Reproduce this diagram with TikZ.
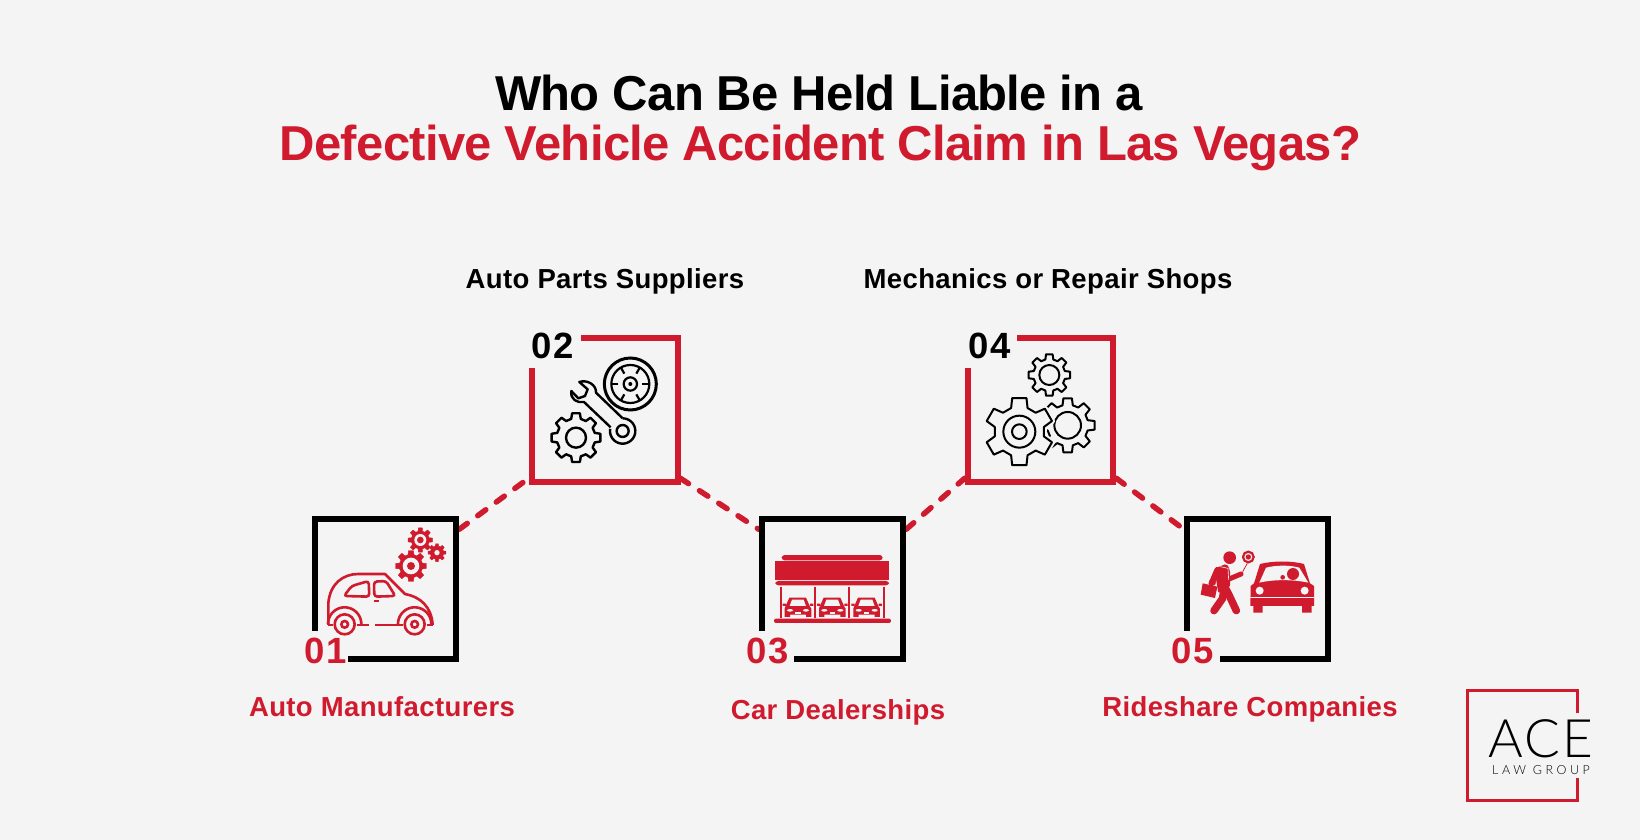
\documentclass[tikz,border=0pt]{standalone}
\usepackage{fontspec}
\setmainfont{Liberation Sans}
\newfontfamily\logofont{Lato Light}
\usetikzlibrary{positioning,calc}
\definecolor{aceRed}{RGB}{208, 26, 45}
\definecolor{paper}{RGB}{244, 244, 244}
\newcommand{\cogwheel}[6][]{
    \begin{scope}[shift={(#2,#3)}]
        \draw[line join=round,#1] ({(1-.32)*360/#6}:#5)
            \foreach \k in {1,...,#6} {
                -- ({(\k-.32)*360/#6}:#5) -- ({(\k-.2)*360/#6}:#4)
                -- ({(\k+.2)*360/#6}:#4) -- ({(\k+.32)*360/#6}:#5)
            } -- cycle;
    \end{scope}
}
\newcommand{\lotcar}[1]{
    \begin{scope}[shift={(#1,0)}]
        \fill[aceRed] (-38,320) -- (-26,293) -- (24,293) -- (36,320) -- (40,326) -- (40,351) -- (24,351) -- (24,344)
            -- (-24,344) -- (-24,351) -- (-40,351) -- (-40,326) -- cycle;
        \fill[paper] (-25,318) -- (-18,299) -- (17,299) -- (24,318) -- cycle;
        \fill[paper] (-24,331) ellipse (9 and 4) (24,331) ellipse (9 and 4);
        \fill[paper] (-8,336) rectangle (8,341);
        \fill[aceRed] (-46,311) rectangle (-36,318) (36,311) rectangle (46,318);
    \end{scope}
}
\begin{document}
\begin{tikzpicture}[
    x=1pt,y=-1pt,
    titletext/.style={font=\fontsize{49}{49}\selectfont\bfseries\addfontfeature{LetterSpace=-1.4},anchor=base},
    itemtext/.style={font=\fontsize{27.5}{28}\selectfont\bfseries\addfontfeature{LetterSpace=1.4},anchor=base},
    numtext/.style={font=\fontsize{36.5}{36.5}\selectfont\bfseries\addfontfeature{LetterSpace=5},anchor=base,inner sep=0pt},
    framebox/.style={minimum width=147pt,minimum height=146pt,inner sep=0pt},
    tallbox/.style={minimum width=151pt,minimum height=150pt,inner sep=0pt},
    frameline/.style={line width=6pt},
    link/.style={aceRed,line width=5.5pt,line cap=round,dash pattern=on 10pt off 13pt},
    icon/.style={x=.3333pt,y=-.3333pt},
    thin outline/.style={black,line width=2.4pt}
]
    \useasboundingbox (0,0) rectangle (1640,840);
    \fill[paper] (0,0) rectangle (1640,840);

    \node[titletext] (titleTop) at (819,111) {Who Can Be Held Liable in a};
    \node[titletext,text=aceRed] (titleBottom) at (820.5,160) {Defective Vehicle Accident Claim in Las Vegas?};

    \node[framebox] (makers) at (385.5,589) {};
    \node[tallbox] (suppliers) at (604.5,410) {};
    \node[framebox] (dealers) at (832.5,589) {};
    \node[tallbox] (mechanics) at (1040.5,410) {};
    \node[framebox] (rideshare) at (1257.5,589) {};

    \draw[link] (makers.39) -- (suppliers.222);
    \draw[link] (suppliers.318) -- (dealers.141);
    \draw[link] (dealers.39) -- (mechanics.222);
    \draw[link] (mechanics.318) -- (rideshare.141);

    \draw[frameline,black] (315,631) |- (456,519) |- (348,659);
    \draw[frameline,aceRed] (532,368) |- (677.5,482) |- (581,338);
    \draw[frameline,black] (762,631) |- (903,519) |- (794,659);
    \draw[frameline,aceRed] (968,368) |- (1113,482) |- (1017,338);
    \draw[frameline,black] (1187,631) |- (1328,519) |- (1220,659);

    \node[numtext,text=aceRed] (numA) at (326,663) {01};
    \node[numtext] (numB) at (553,358) {02};
    \node[numtext,text=aceRed] (numC) at (768,663) {03};
    \node[numtext] (numD) at (989.5,358) {04};
    \node[numtext,text=aceRed] (numE) at (1193,663) {05};

    \node[itemtext,text=aceRed] (textA) at (382,716.5) {Auto Manufacturers};
    \node[itemtext] (textB) at (605,288.5) {Auto Parts Suppliers};
    \node[itemtext,text=aceRed] (textC) at (838,719.5) {Car Dealerships};
    \node[itemtext] (textD) at (1048,288.5) {Mechanics or Repair Shops};
    \node[itemtext,text=aceRed] (textE) at (1250,716.5) {Rideshare Companies};

    \begin{scope}[shift={(280,500)},icon]
        \draw[aceRed,line width=2.6pt,line join=round]
            (145,375) -- (145,310) .. controls (150,250) and (190,222) .. (235,222) -- (315,222)
            -- (375,282) .. controls (420,290) and (455,320) .. (458,375);
        \draw[aceRed,line width=2.6pt,rounded corners=3pt] (192,288) -- (215,258) -- (266,243) -- (268,290) -- cycle;
        \draw[aceRed,line width=2.6pt,rounded corners=3pt] (282,245) -- (318,243) -- (346,288) -- (283,290) -- cycle;
        \draw[aceRed,line width=2.6pt] (282,303) -- (298,303);
        \draw[aceRed,line width=2.6pt] (143,375) -- (160,375) (230,375) -- (268,375) (285,375) -- (370,375) (440,375) -- (460,375);
        \draw[aceRed,line width=2.6pt] plot[domain=0:180,samples=25] ({194+50*cos(\x)},{372-50*sin(\x)});
        \draw[aceRed,line width=2.6pt] plot[domain=0:180,samples=25] ({404+50*cos(\x)},{372-50*sin(\x)});
        \draw[aceRed,line width=2.6pt,fill=paper] (194,373) circle (30) (404,373) circle (30);
        \draw[aceRed,line width=2.6pt] (194,373) circle (10) (404,373) circle (10);
        \cogwheel[aceRed,fill=aceRed]{393}{198}{47}{35}{8}
        \fill[paper] (393,198) circle (25);
        \fill[aceRed] (393,198) circle (12);
        \cogwheel[aceRed,fill=aceRed]{421}{120}{37}{27}{8}
        \fill[paper] (421,120) circle (18);
        \fill[aceRed] (421,120) circle (10);
        \cogwheel[aceRed,fill=aceRed]{471}{158}{27}{20}{8}
        \fill[paper] (471,158) circle (8);
    \end{scope}

    \begin{scope}[shift={(510,320)},icon]
        \draw[black,line width=3pt] (361,192) circle (78);
        \draw[black,line width=2.2pt] (361,192) circle (57) (361,192) circle (20);
        \fill[black] (361,192) circle (6);
        \foreach \a in {0,60,...,300} {
            \draw[black,line width=2.2pt] ($(361,192)+(\a:36)$) -- ($(361,192)+(\a:56)$);
        }
        \draw[thin outline,line join=round]
            (338,295) -- (258,218) .. controls (260,195) and (232,178) .. (208,186) -- (233,208) -- (225,228) -- (205,235) -- (184,213)
            .. controls (180,238) and (202,250) .. (222,246) -- (302,322);
        \draw[thin outline] plot[domain=-90:190,samples=30] ({338+38*cos(\x)},{333+38*sin(\x)});
        \draw[thin outline] (338,333) circle (18);
        \cogwheel[thin outline]{198}{353}{74}{58}{8}
        \draw[thin outline] (198,353) circle (30);
    \end{scope}

    \begin{scope}[shift={(730,500)},icon]
        \fill[aceRed,rounded corners=3pt] (155,181) -- (155,165) -- (458,165) -- (458,181) -- cycle;
        \fill[aceRed] (136,184) rectangle (477,240);
        \fill[aceRed,rounded corners=3pt] (136,243) -- (477,243) -- (477,256) -- (136,256) -- cycle;
        \foreach \xcol in {152,255,358,462} {
            \draw[aceRed,line width=1.7pt] (\xcol,260) -- (\xcol,355);
        }
        \fill[aceRed,rounded corners=2pt] (132,356) rectangle (483,369);
        \lotcar{204}
        \lotcar{307}
        \lotcar{410}
    \end{scope}

    \begin{scope}[shift={(950,320)},icon]
        \cogwheel[thin outline,line width=2pt]{298}{165}{63}{48}{8}
        \draw[thin outline,line width=2pt] (298,165) circle (30);
        \cogwheel[thin outline,line width=2pt]{353}{316}{82}{62}{8}
        \draw[thin outline,line width=2pt] (353,316) circle (40);
        \begin{scope}[shift={(208,335)},rotate=30]
            \cogwheel[draw=paper,line width=6pt,fill=paper]{0}{0}{103}{75}{6}
            \cogwheel[thin outline,line width=2pt]{0}{0}{103}{75}{6}
        \end{scope}
        \draw[thin outline,line width=2pt] (208,335) circle (48) (208,335) circle (22);
    \end{scope}

    \begin{scope}[shift={(1160,500)},icon]
        \fill[aceRed] (209,173) circle (19);
        \fill[aceRed,rounded corners=2pt] (163,206) -- (200,191) -- (210,210) -- (210,262) -- (175,280) -- cycle;
        \draw[aceRed,line width=6pt,line cap=round] (172,210) -- (155,250);
        \draw[aceRed,line width=5pt,line cap=round] (205,238) -- (243,222);
        \draw[aceRed,line width=7.5pt,line cap=round,line join=round] (192,262) -- (188,295) -- (162,332);
        \draw[aceRed,line width=7.5pt,line cap=round,line join=round] (195,262) -- (207,285) -- (229,332);
        \draw[paper,line width=.6pt] (181,200) -- (204,205) -- (206,240);
        \fill[aceRed] (128,250) -- (172,260) -- (165,294) -- (122,284) -- cycle;
        \draw[aceRed,line width=1pt] (147,252) -- (150,242) -- (166,246) -- (164,256);
        \draw[aceRed,line width=2.2pt,fill=paper] (265,171) circle (16);
        \fill[aceRed] (265,171) circle (8);
        \draw[aceRed,line width=.8pt] (262,190) -- (248,215);
        \fill[aceRed] (272,258) -- (282,250) -- (300,192) .. controls (340,182) and (395,182) .. (432,192) -- (450,250) -- (462,258)
            -- (462,318) -- (455,318) -- (455,338) -- (426,338) -- (426,318) -- (308,318) -- (308,338) -- (280,338) -- (280,318)
            -- (271,318) -- cycle;
        \fill[paper] (298,248) -- (318,203) .. controls (350,195) and (390,195) .. (418,203) -- (445,248)
            .. controls (400,238) and (340,238) .. (298,248) -- cycle;
        \fill[aceRed] (399,222) circle (18) (368,232) circle (7);
        \fill[paper] (299,272) circle (12) (434,272) circle (12);
        \draw[paper,line width=.8pt] (271,293) -- (462,293);
    \end{scope}

    \draw[aceRed,line width=2.5pt] (1577.5,713) |- (1467.5,690.5) |- (1577.5,800.5) -- (1577.5,778);
    \node[font=\logofont\fontsize{53}{53}\selectfont\addfontfeature{LetterSpace=4},anchor=base,inner sep=0pt] (aceWord) at (1541,757) {ACE};
    \node[font=\logofont\fontsize{12.5}{12.5}\selectfont\addfontfeature{LetterSpace=28},anchor=base,inner sep=0pt] (lawWord) at (1541,774) {LAW GROUP};
\end{tikzpicture}
\end{document}
